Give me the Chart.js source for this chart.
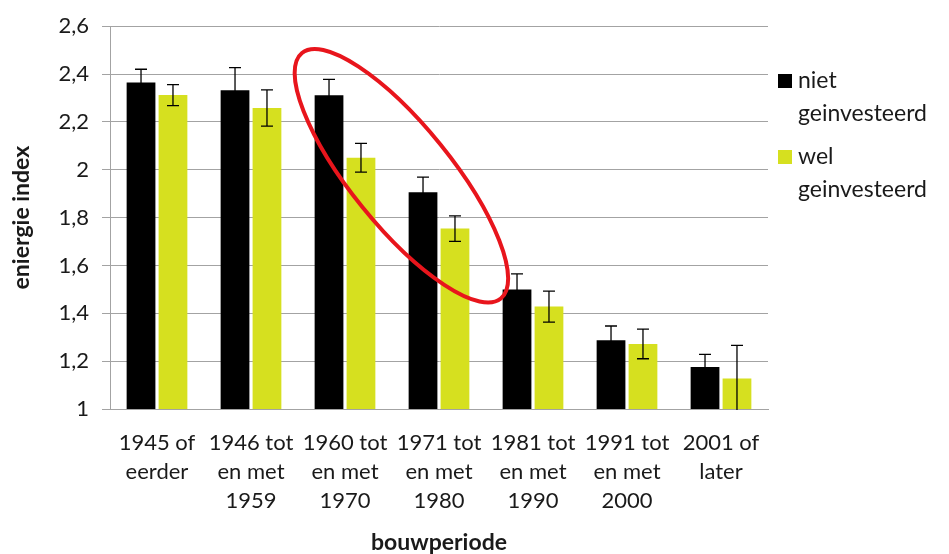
<!DOCTYPE html>
<html>
<head>
<meta charset="utf-8">
<script src="https://cdn.jsdelivr.net/npm/chart.js@4/dist/chart.umd.min.js"></script>
<style>
  html, body { margin: 0; padding: 0; background: #fff; }
  #wrap { width: 949px; height: 554px; }
</style>
</head>
<body>
<div id="wrap"><canvas id="c"></canvas></div>
<script>
// bouwperiode categories (multi-line labels)
const categories = [
  ['1945 of', 'eerder'],
  ['1946 tot', 'en met', '1959'],
  ['1960 tot', 'en met', '1970'],
  ['1971 tot', 'en met', '1980'],
  ['1981 tot', 'en met', '1990'],
  ['1991 tot', 'en met', '2000'],
  ['2001 of', 'later'],
];
const nietValues = [2.365, 2.332, 2.311, 1.906, 1.500, 1.287, 1.176];
const nietErrors = [0.055, 0.095, 0.067, 0.063, 0.065, 0.060, 0.052];
const welValues  = [2.312, 2.258, 2.050, 1.754, 1.428, 1.272, 1.128];
const welErrors  = [0.044, 0.076, 0.060, 0.053, 0.065, 0.062, 0.138];
const yTickLabels = ['1', '1,2', '1,4', '1,6', '1,8', '2', '2,2', '2,4', '2,6'];

const FONT = 'Lato, "Open Sans", sans-serif';
const BLACK = '#000000';
const LIME = '#d6e01f';
const GRID = '#a3a3a3';
const TEXT = '#1a1a1a';

// error bars drawn on top of each bar
const errorBars = {
  id: 'errorBars',
  afterDatasetsDraw(chart) {
    const ctx = chart.ctx;
    const y = chart.scales.y;
    const area = chart.chartArea;
    ctx.save();
    ctx.beginPath();
    ctx.rect(area.left, area.top, area.right - area.left, area.bottom - area.top + 1);
    ctx.clip();
    ctx.strokeStyle = '#000';
    ctx.lineWidth = 1.3;
    chart.data.datasets.forEach((ds, i) => {
      const meta = chart.getDatasetMeta(i);
      meta.data.forEach((bar, j) => {
        const v = ds.data[j], e = ds.errors[j];
        const yt = y.getPixelForValue(v + e);
        const yb = y.getPixelForValue(v - e);
        const x = bar.x;
        ctx.beginPath();
        ctx.moveTo(x, yt); ctx.lineTo(x, yb);
        ctx.moveTo(x - 6, yt); ctx.lineTo(x + 6, yt);
        ctx.moveTo(x - 6, yb); ctx.lineTo(x + 6, yb);
        ctx.stroke();
      });
    });
    ctx.restore();
  }
};

// red ellipse round the 1960-1980 bars
const highlight = {
  id: 'highlight',
  afterDatasetsDraw(chart) {
    const ctx = chart.ctx;
    const cx = chart.scales.x.getPixelForValue(2.6);
    const cy = chart.scales.y.getPixelForValue(1.975);
    ctx.save();
    ctx.strokeStyle = '#e8151c';
    ctx.lineWidth = 4;
    ctx.beginPath();
    ctx.ellipse(cx, cy, 158, 50, 51 * Math.PI / 180, 0, Math.PI * 2);
    ctx.stroke();
    ctx.restore();
  }
};

// legend on the right, labels wrapped over two lines
const sideLegend = {
  id: 'sideLegend',
  afterDraw(chart) {
    const ctx = chart.ctx;
    const x0 = chart.chartArea.right + 10;
    ctx.save();
    ctx.font = '23px ' + FONT;
    ctx.textBaseline = 'middle';
    chart.data.datasets.forEach((ds, i) => {
      const top = 81 + i * 76;
      ctx.fillStyle = ds.backgroundColor;
      ctx.fillRect(x0, top - 7, 14, 14);
      ctx.fillStyle = TEXT;
      const words = ds.label.split(' ');
      words.forEach((w, k) => ctx.fillText(w, x0 + 20, top + k * 33));
    });
    ctx.restore();
  }
};

new Chart(document.getElementById('c'), {
  type: 'bar',
  data: {
    labels: categories,
    datasets: [
      { label: 'niet geinvesteerd', data: nietValues, errors: nietErrors, backgroundColor: BLACK },
      { label: 'wel geinvesteerd', data: welValues, errors: welErrors, backgroundColor: LIME },
    ],
  },
  options: {
    responsive: true,
    maintainAspectRatio: false,
    animation: false,
    layout: { padding: { top: 22, right: 181, left: 0, bottom: 0 } },
    categoryPercentage: 0.68,
    barPercentage: 0.9,
    plugins: {
      legend: { display: false },
      tooltip: { enabled: false },
    },
    scales: {
      x: {
        grid: { display: false, drawTicks: false },
        border: { color: GRID },
        ticks: { color: TEXT, font: { family: FONT, size: 22, lineHeight: 1.32 }, padding: 19, maxRotation: 0, autoSkip: false },
        title: { display: true, text: 'bouwperiode', color: TEXT, font: { family: FONT, size: 23, weight: 'bold', lineHeight: 1.0 }, padding: { top: 14, bottom: 0 } },
        afterFit(scale) { scale.height = 145; },
      },
      y: {
        min: 1, max: 2.6,
        grid: { color: GRID, tickLength: 8 },
        border: { color: GRID },
        ticks: {
          stepSize: 0.2,
          color: TEXT,
          padding: 13,
          font: { family: FONT, size: 22 },
          callback: (v, i) => yTickLabels[i],
        },
        title: { display: true, text: 'eniergie index', color: TEXT, font: { family: FONT, size: 23, weight: 'bold' }, padding: { bottom: 0, top: 8 } },
        afterFit(scale) { scale.width = 110; },
      },
    },
  },
  plugins: [errorBars, highlight, sideLegend],
});
</script>
</body>
</html>
